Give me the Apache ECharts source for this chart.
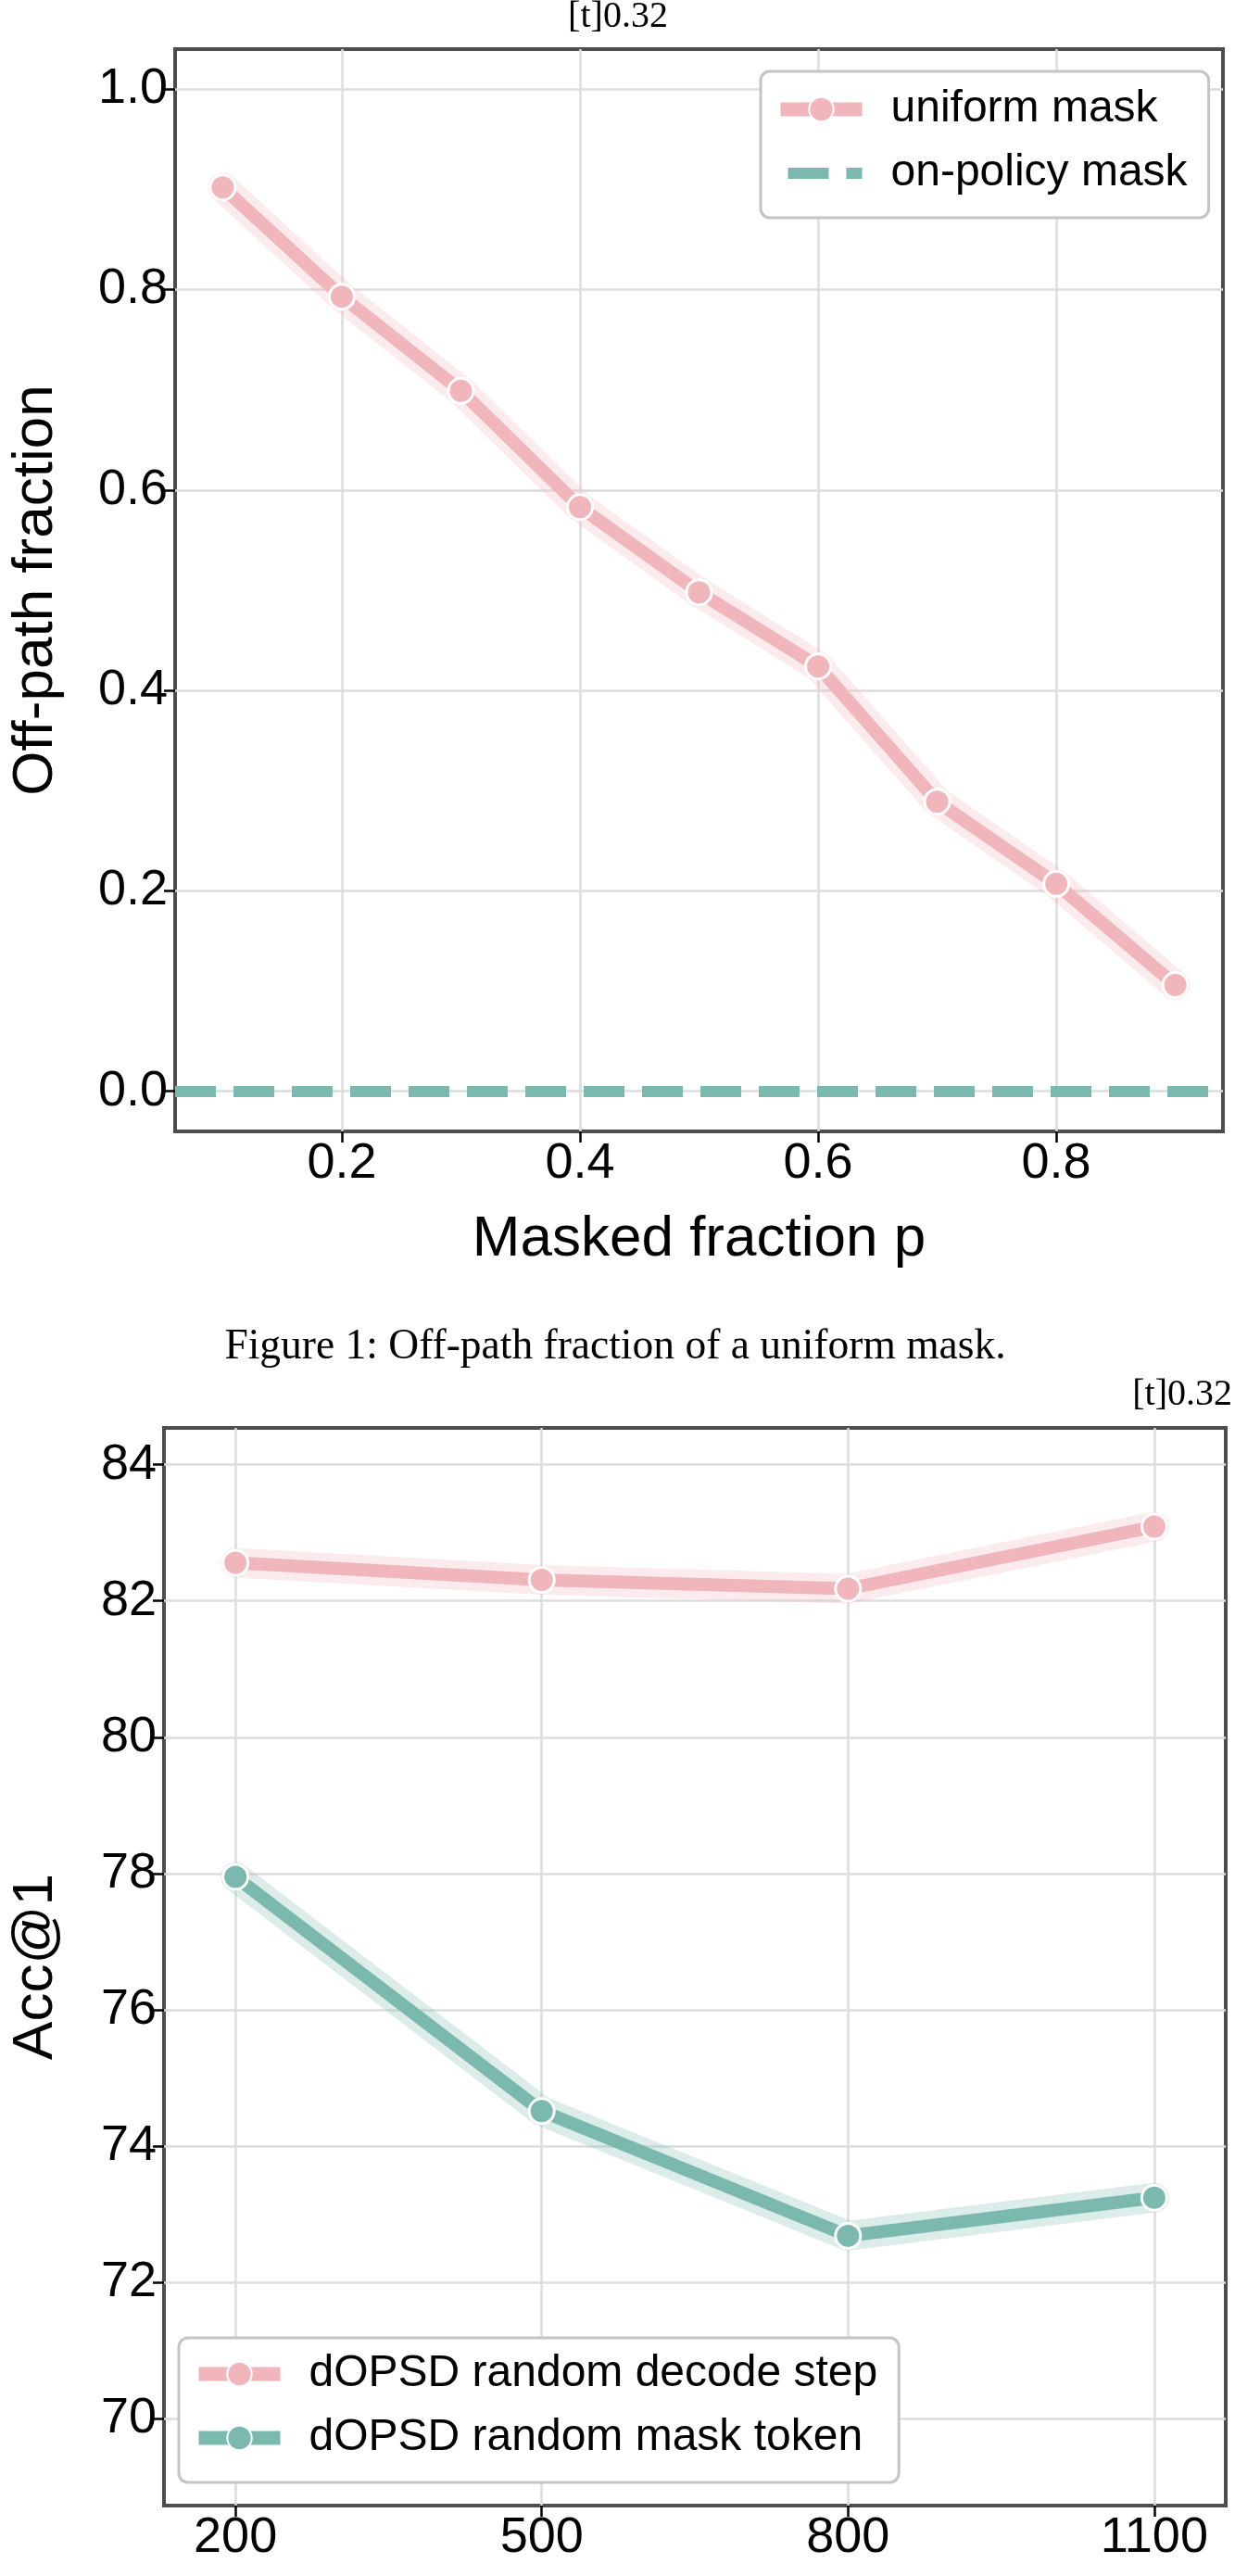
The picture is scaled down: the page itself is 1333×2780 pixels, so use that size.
<!DOCTYPE html>
<html>
<head>
<meta charset="utf-8">
<script src="https://cdn.jsdelivr.net/npm/echarts@6/dist/echarts.min.js"></script>
<style>
  html, body { margin: 0; padding: 0; background: #fff; }
  #chart { width: 1333px; height: 2780px; }
</style>
</head>
<body>
<div id="chart"></div>
<script>
// top plot: off-path fraction vs masked fraction p
const maskFrac = [0.1, 0.2, 0.3, 0.4, 0.5, 0.6, 0.7, 0.8, 0.9];
const uniformOffPath = [0.902, 0.793, 0.699, 0.583, 0.498, 0.424, 0.289, 0.207, 0.106];
const onPolicyOffPath = 0;
const fracTicks = [0.2, 0.4, 0.6, 0.8];
const offPathTicks = [0.0, 0.2, 0.4, 0.6, 0.8, 1.0];

// bottom plot: Acc@1 vs step
const steps = [200, 500, 800, 1100];
const decodeStepAcc = [82.56, 82.31, 82.18, 83.09];
const maskTokenAcc = [77.95, 74.51, 72.68, 73.24];
const stepTicks = [200, 500, 800, 1100];
const accTicks = [70, 72, 74, 76, 78, 80, 82, 84];

const SANS = '"Liberation Sans", Arial, Helvetica, sans-serif';
const SERIF = '"Liberation Serif", "DejaVu Serif", serif';
const PINK = '#f0b6bb';
const TEAL = '#7bb9ae';

let pairs = (xs, ys) => xs.map((x, i) => [x, ys[i]]);

function axis(min, max, ticks, fmt, extra) {
  return Object.assign({
    type: 'value',
    min: min,
    max: max,
    axisLine: { show: false, onZero: false },
    axisTick: { show: true, length: 12, customValues: ticks, lineStyle: { color: '#000', width: 2.5 } },
    axisLabel: { customValues: ticks, formatter: fmt, fontFamily: SANS, fontSize: 54, color: '#000' },
    splitLine: { show: true, lineStyle: { color: '#dddddd', width: 2.5 } }
  }, extra);
}

function band(name, data, color, xi) {
  return {
    name: name, type: 'line', data: data, xAxisIndex: xi, yAxisIndex: xi,
    showSymbol: false, silent: true, z: 2,
    lineStyle: { color: color, width: 32, opacity: 0.27, cap: 'round', join: 'round' }
  };
}

function mainLine(name, data, color, xi) {
  return {
    name: name, type: 'line', data: data, xAxisIndex: xi, yAxisIndex: xi,
    symbol: 'circle', symbolSize: 27, z: 3,
    itemStyle: { color: color, borderColor: '#fff', borderWidth: 3 },
    lineStyle: { color: color, width: 14, join: 'round' }
  };
}

function legendBox(left, top, padding, items) {
  return {
    left: left, top: top, orient: 'vertical', padding: padding,
    itemWidth: 88, itemHeight: 33, itemGap: 21, selectedMode: false,
    borderColor: '#c4c4c4', borderWidth: 3, borderRadius: 10, backgroundColor: '#fff',
    textStyle: { fontFamily: SANS, fontSize: 48, lineHeight: 48, color: '#000', padding: [0, 0, 0, 26] },
    data: items
  };
}

const chart = echarts.init(document.getElementById('chart'), null, { renderer: 'canvas' });

chart.setOption({
  animation: false,
  backgroundColor: '#fff',
  graphic: [
    { type: 'text', style: { text: '[t]0.32', x: 667, y: 18, align: 'center', verticalAlign: 'middle', font: '40px ' + SERIF, fill: '#000' } },
    { type: 'text', style: { text: 'Figure 1: Off-path fraction of a uniform mask.', x: 664, y: 1454, align: 'center', verticalAlign: 'middle', font: '45.5px ' + SERIF, fill: '#000' } },
    { type: 'text', style: { text: '[t]0.32', x: 1330, y: 1505, align: 'right', verticalAlign: 'middle', font: '40px ' + SERIF, fill: '#000' } }
  ],
  grid: [
    { left: 183, top: 53, width: 1137, height: 1168, show: true, borderColor: '#4d4d4d', borderWidth: 4 },
    { left: 169, top: 1541, width: 1154, height: 1163, show: true, borderColor: '#4d4d4d', borderWidth: 4 }
  ],
  xAxis: [
    axis(0.06, 0.94, fracTicks, v => v.toFixed(1), {
      gridIndex: 0, name: 'Masked fraction p', nameLocation: 'middle', nameGap: 86,
      nameTextStyle: { fontFamily: SANS, fontSize: 62, color: '#000' }
    }),
    axis(130, 1170, stepTicks, v => String(v), { gridIndex: 1 })
  ],
  yAxis: [
    axis(-0.04, 1.04, offPathTicks, v => v.toFixed(1), {
      gridIndex: 0, name: 'Off-path fraction', nameLocation: 'middle', nameGap: 119,
      nameTextStyle: { fontFamily: SANS, fontSize: 62, color: '#000' }
    }),
    axis(68.72, 84.54, accTicks, v => String(v), {
      gridIndex: 1, name: 'Acc@1', nameLocation: 'middle', nameGap: 107,
      nameTextStyle: { fontFamily: SANS, fontSize: 62, color: '#000' }
    })
  ],
  legend: [
    legendBox(821, 77, [17, 23, 24, 14], [
      { name: 'uniform mask', lineStyle: { width: 15 } },
      { name: 'on-policy mask', lineStyle: { width: 12, dashOffset: 55 }, itemStyle: { opacity: 0 } }
    ]),
    legendBox(193, 2523, [15, 23, 24, 14], [
      { name: 'dOPSD random decode step', lineStyle: { width: 15 } },
      { name: 'dOPSD random mask token', lineStyle: { width: 15 } }
    ])
  ],
  series: [
    band('uniform band', pairs(maskFrac, uniformOffPath), PINK, 0),
    mainLine('uniform mask', pairs(maskFrac, uniformOffPath), PINK, 0),
    {
      name: 'on-policy mask', type: 'line', data: [], xAxisIndex: 0, yAxisIndex: 0,
      symbol: 'none', z: 4,
      itemStyle: { color: TEAL },
      lineStyle: { color: TEAL, width: 12, type: [44, 19] },
      markLine: {
        silent: true, symbol: ['none', 'none'], label: { show: false },
        lineStyle: { color: TEAL, width: 12, type: [44, 19], opacity: 1 },
        emphasis: { disabled: true },
        data: [{ yAxis: onPolicyOffPath }]
      }
    },
    band('decode band', pairs(steps, decodeStepAcc), PINK, 1),
    band('token band', pairs(steps, maskTokenAcc), TEAL, 1),
    mainLine('dOPSD random decode step', pairs(steps, decodeStepAcc), PINK, 1),
    mainLine('dOPSD random mask token', pairs(steps, maskTokenAcc), TEAL, 1)
  ]
});
</script>
</body>
</html>
